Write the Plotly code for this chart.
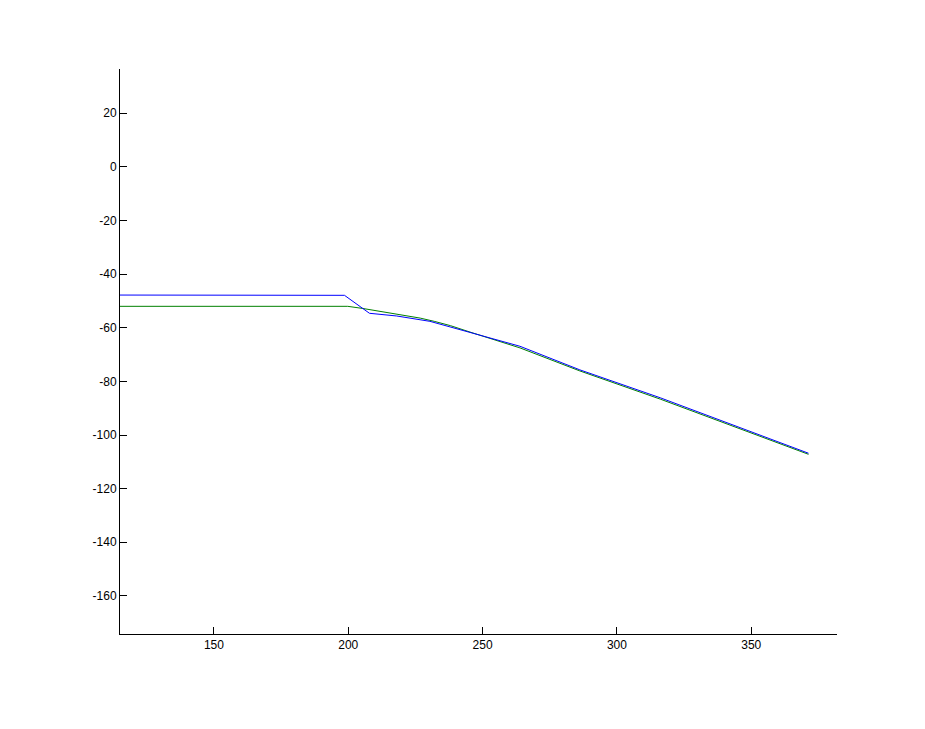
import plotly.graph_objects as go

# Series values
blue_x = [115.0, 198.6, 207.9, 218.0, 230.4, 245.3, 263.9, 286.2, 316.1, 371.3]
blue_y = [-47.8, -47.9, -54.6, -55.6, -57.6, -61.7, -66.9, -75.7, -86.1, -106.8]

green_x = [115.0, 199.8, 205.4, 212.0, 218.0, 226.8, 232.0, 238.0, 245.3, 263.9, 286.2, 316.1, 371.3]
green_y = [-52.0, -52.0, -52.8, -53.9, -55.0, -56.4, -57.6, -59.2, -61.6, -67.5, -76.1, -86.6, -107.2]

x_ticks = [150, 200, 250, 300, 350]
y_ticks = [20, 0, -20, -40, -60, -80, -100, -120, -140, -160]

fig = go.Figure()
fig.add_trace(go.Scatter(x=green_x, y=green_y, mode="lines",
                         line=dict(color="#008000", width=1), showlegend=False))
fig.add_trace(go.Scatter(x=blue_x, y=blue_y, mode="lines",
                         line=dict(color="#0000FF", width=1), showlegend=False))

axis_common = dict(showgrid=False, zeroline=False, showline=True, linecolor="black",
                   linewidth=1, ticks="inside", ticklen=7, tickcolor="black", tickwidth=1,
                   tickfont=dict(family="Liberation Sans, Arial, sans-serif", size=12, color="black"))

fig.update_xaxes(range=[115.05, 381.9], tickvals=x_ticks,
                 ticktext=[str(v) for v in x_ticks], **axis_common)
fig.update_yaxes(range=[-174.2, 36.5], tickvals=y_ticks,
                 ticktext=[str(v) for v in y_ticks], **axis_common)

fig.update_layout(width=925, height=729, autosize=False,
                  margin=dict(l=112, r=96, t=61, b=103, pad=0),
                  paper_bgcolor="white", plot_bgcolor="white")

fig.write_html("out.html")
